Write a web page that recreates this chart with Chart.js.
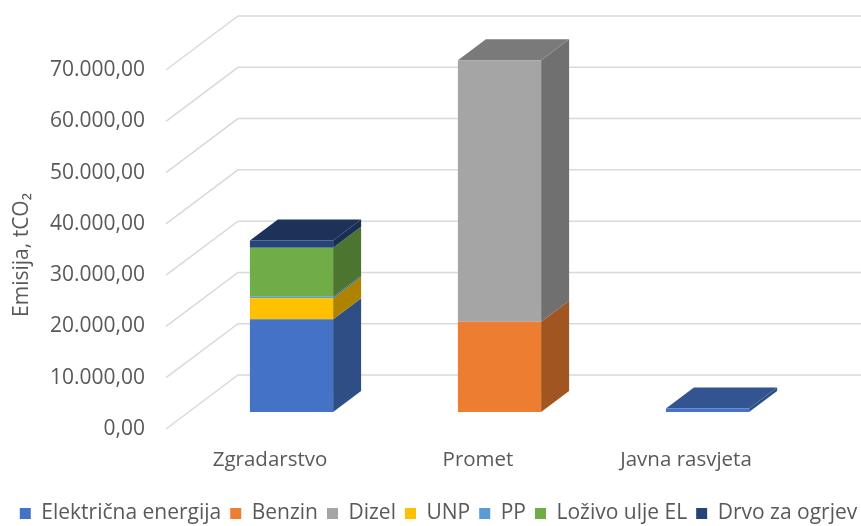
<!DOCTYPE html>
<html>
<head>
<meta charset="utf-8">
<title>Emisija</title>
<script src="https://cdn.jsdelivr.net/npm/chart.js@4"></script>
<style>
  html, body { margin: 0; padding: 0; background: #fff; overflow: hidden; }
  canvas { display: block; }
</style>
</head>
<body>
<canvas id="grafico" width="861" height="526"></canvas>
<script>
// Dados ----------------------------------------------------------------
const categorias = ['Zgradarstvo', 'Promet', 'Javna rasvjeta'];

const elektricna = [18100, 0, 700];
const benzin = [0, 17600, 0];
const dizel = [0, 51000, 0];
const unp = [4100, 0, 0];
const pp = [250, 0, 0];
const lozivo = [9600, 0, 0];
const drvo = [1400, 0, 0];

const cores = ['#4472C4', '#ED7D31', '#A5A5A5', '#FFC000', '#5B9BD5', '#70AD47', '#264478'];
const nomes = ['Električna energija', 'Benzin', 'Dizel', 'UNP', 'PP', 'Loživo ulje EL', 'Drvo za ogrjev'];
const series = [elektricna, benzin, dizel, unp, pp, lozivo, drvo];

const corTexto = '#595959';
const corGrade = '#d9d9d9';

// Profundidade do efeito 3D
const fundoX = 72, fundoY = 54;     // parede do fundo
const frenteX = 21.5, frenteY = 17; // face da frente das barras
const barraX = 28, barraY = 21;     // profundidade da barra

function escurece(hex, f) {
  const n = parseInt(hex.slice(1), 16);
  const r = Math.round((n >> 16 & 255) * f);
  const g = Math.round((n >> 8 & 255) * f);
  const b = Math.round((n & 255) * f);
  return `rgb(${r},${g},${b})`;
}

function poligono(ctx, pts, cor) {
  ctx.fillStyle = cor;
  ctx.beginPath();
  ctx.moveTo(pts[0][0], pts[0][1]);
  for (let i = 1; i < pts.length; i++) ctx.lineTo(pts[i][0], pts[i][1]);
  ctx.closePath();
  ctx.fill();
}

// Plugin que desenha a grade em perspectiva e as faces das barras
const efeito3d = {
  id: 'efeito3d',
  afterLayout(chart) {
    // legenda mais abaixo e mais para a direita, como na imagem
    chart.legend.top += 8;
    chart.legend.left += 8;
    chart.legend.right += 8;
  },
  beforeDatasetsDraw(chart) {
    const ctx = chart.ctx;
    const area = chart.chartArea;
    const y = chart.scales.y;

    ctx.save();
    ctx.strokeStyle = corGrade;
    ctx.lineWidth = 1.5;
    y.ticks.forEach(t => {
      const py = y.getPixelForValue(t.value);
      ctx.beginPath();
      ctx.moveTo(area.left, py);
      ctx.lineTo(area.left + fundoX, py - fundoY);
      ctx.lineTo(area.right + fundoX, py - fundoY);
      ctx.stroke();
    });
    ctx.restore();

    ctx.save();
    ctx.translate(frenteX, frenteY * -1);

    categorias.forEach((c, i) => {
      let topo = null;
      series.forEach((s, d) => {
        if (!s[i]) return;
        const el = chart.getDatasetMeta(d).data[i];
        const dir = el.x + el.width / 2;
        poligono(ctx, [
          [dir, el.base],
          [dir + barraX, el.base - barraY],
          [dir + barraX, el.y - barraY],
          [dir, el.y]
        ], escurece(cores[d], 0.68));
        topo = { el, d };
      });
      if (topo) {
        const el = topo.el;
        const esq = el.x - el.width / 2;
        const dir = el.x + el.width / 2;
        poligono(ctx, [
          [esq, el.y],
          [esq + barraX, el.y - barraY],
          [dir + barraX, el.y - barraY],
          [dir, el.y]
        ], escurece(cores[topo.d], 0.74));
      }
    });
  },
  afterDatasetsDraw(chart) {
    chart.ctx.restore();
  }
};

const data = {
  labels: categorias,
  datasets: series.map((s, d) => ({
    label: nomes[d],
    data: s,
    backgroundColor: cores[d],
    borderWidth: 0,
    categoryPercentage: 1,
    barPercentage: 0.4
  }))
};

const config = {
  type: 'bar',
  data,
  plugins: [efeito3d],
  options: {
    responsive: false,
    animation: false,
    layout: { padding: { top: 70, left: 0, right: 0, bottom: 0 } },
    scales: {
      x: {
        stacked: true,
        grid: { display: false },
        border: { display: false },
        ticks: { color: corTexto, font: { family: 'Open Sans', size: 20.5 }, padding: 11, maxRotation: 0 },
        afterFit(scale) {
          scale.height = 97 - scale.chart.legend.height;
        }
      },
      y: {
        stacked: true,
        min: 0,
        max: 70000,
        grid: { display: false },
        border: { display: false },
        ticks: {
          stepSize: 10000,
          color: corTexto,
          font: { family: 'Open Sans', size: 21 },
          padding: 13,
          callback: v => v.toLocaleString('de-DE', { minimumFractionDigits: 2 })
        },
        title: {
          display: true,
          text: 'Emisija, tCO₂\u00A0\u00A0',
          color: corTexto,
          font: { family: 'Open Sans', size: 21 },
          padding: { top: 9, bottom: 0 }
        },
        afterFit(scale) {
          scale.width = 166;
        }
      },
      // eixo vazio so para reservar o espaco da parede do fundo
      lado: {
        position: 'right',
        grid: { display: false },
        border: { display: false },
        ticks: { display: false },
        afterFit(scale) {
          scale.width = 71;
        }
      }
    },
    plugins: {
      tooltip: { enabled: false },
      legend: {
        position: 'bottom',
        labels: {
          color: corTexto,
          font: { family: 'Open Sans', size: 21 },
          boxWidth: 11,
          boxHeight: 11,
          padding: 9
        }
      }
    }
  }
};

new Chart(document.getElementById('grafico'), config);
</script>
</body>
</html>
